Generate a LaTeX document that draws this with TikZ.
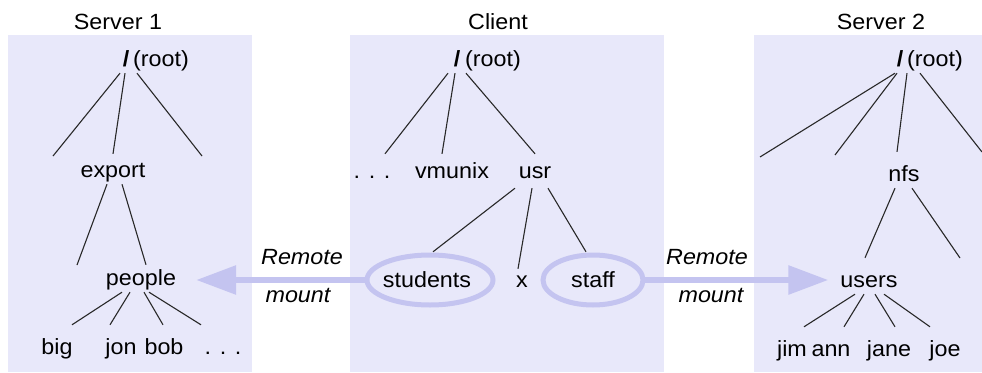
\documentclass[tikz,border=0pt]{standalone}
\usepackage{fontspec}
\setmainfont{Liberation Sans}[FakeStretch=1.06]
\usetikzlibrary{arrows.meta}
\definecolor{boxfill}{RGB}{232,232,250}
\definecolor{mountc}{RGB}{196,196,240}
\definecolor{treeline}{RGB}{40,40,40}
\begin{document}
\begin{tikzpicture}[x=1pt,y=-1pt,
  lbl/.style={anchor=base, inner sep=2pt, text height=16pt, text depth=5pt, font=\fontsize{22}{26}\selectfont},
  itl/.style={lbl, font=\fontsize{22}{26}\selectfont\itshape},
  br/.style={draw=treeline, line width=1.1pt},
  panel/.style={fill=boxfill, draw=none},
  ring/.style={draw=mountc, line width=5pt},
  mountarrow/.style={draw=mountc, line width=6pt, -{Triangle[length=40pt,width=28pt]}}]
\useasboundingbox (0,0) rectangle (982,372);
% panels
\fill[panel] (8,35) rectangle (252,372);
\fill[panel] (350,35) rectangle (664,372);
\fill[panel] (754,35) rectangle (982,372);
% titles
\node[lbl] (t1) at (118,29) {Server 1};
\node[lbl] (t2) at (498,29) {Client};
\node[lbl] (t3) at (881,29) {Server 2};
% ---------- Server 1 ----------
\node[lbl] (r1) at (126,66) {\textbf{/}};
\node[lbl, anchor=base west] (r1t) at (131,66) {(root)};
\node[lbl] (ex) at (113,177) {export};
\node[lbl] (pe) at (141,285) {people};
\node[lbl] (big) at (57,354) {big};
\node[lbl] (jon) at (121,354) {jon};
\node[lbl] (bob) at (164,354) {bob};
\node[lbl] (d1) at (223,354) {. . .};
\coordinate (f1a) at (53,156);
\coordinate (f1b) at (202,156);
\coordinate (f1c) at (77,265);
\draw[br] ([xshift=-6]r1.south) -- (f1a);
\draw[br] ([xshift=-1]r1.south) -- ([yshift=5]ex.north);
\draw[br] ([xshift=11]r1.south) -- (f1b);
\draw[br] ([xshift=-6]ex.south) -- (f1c);
\draw[br] ([xshift=9]ex.south) -- ([xshift=5,yshift=2]pe.north);
\draw[br] ([xshift=-19]pe.south) -- ([xshift=15,yshift=11]big.north);
\draw[br] ([xshift=-11]pe.south) -- ([xshift=-11,yshift=11]jon.north);
\draw[br] ([xshift=3]pe.south) -- ([xshift=-1,yshift=11]bob.north);
\draw[br] ([xshift=8]pe.south) -- ([xshift=-22,yshift=11]d1.north);
% ---------- Client ----------
\node[lbl] (r2) at (457,66) {\textbf{/}};
\node[lbl, anchor=base west] (r2t) at (463,66) {(root)};
\node[lbl] (d2) at (372,178) {. . .};
\node[lbl] (vm) at (452,178) {vmunix};
\node[lbl] (usr) at (535,178) {usr};
\coordinate (stc) at (430,280);
\coordinate (sfc) at (593,280);
\draw[ring] (stc) ellipse [x radius=63, y radius=25];
\draw[ring] (sfc) ellipse [x radius=50, y radius=25];
\node[lbl] (st) at (427,287) {students};
\node[lbl] (xx) at (522,287) {x};
\node[lbl] (sf) at (593,287) {staff};
\draw[br] ([xshift=-9]r2.south) -- ([xshift=13,yshift=6]d2.north);
\draw[br] ([xshift=-2]r2.south) -- ([xshift=-10,yshift=6]vm.north);
\draw[br] ([xshift=9]r2.south) -- ([yshift=6]usr.north);
\draw[br] ([xshift=-20,yshift=-3]usr.south) -- ([xshift=6,yshift=17]st.north);
\draw[br] ([xshift=-3,yshift=-3]usr.south) -- ([xshift=-4]xx.north);
\draw[br] ([xshift=13,yshift=-3]usr.south) -- ([xshift=-7,yshift=17]sf.north);
% ---------- Server 2 ----------
\node[lbl] (r3) at (900,66) {\textbf{/}};
\node[lbl, anchor=base west] (r3t) at (905,66) {(root)};
\node[lbl] (nfs) at (904,181) {nfs};
\node[lbl] (us) at (869,287) {users};
\node[lbl] (jim) at (792,356) {jim};
\node[lbl] (ann) at (831,356) {ann};
\node[lbl] (jane) at (889,356) {jane};
\node[lbl] (joe) at (945,356) {joe};
\coordinate (f3a) at (760,157);
\coordinate (f3b) at (835,155);
\coordinate (f3c) at (982,152);
\coordinate (f3d) at (960,258);
\draw[br] ([xshift=-5]r3.south) -- (f3a);
\draw[br] ([xshift=-3]r3.south) -- (f3b);
\draw[br] ([xshift=7]r3.south) -- ([xshift=-7,yshift=11]nfs.north);
\draw[br] ([xshift=20]r3.south) -- (f3c);
\draw[br] ([xshift=-9]nfs.south) -- ([xshift=-4,yshift=11]us.north);
\draw[br] ([xshift=8]nfs.south) -- (f3d);
\draw[br] ([xshift=-14]us.south) -- ([xshift=12,yshift=11]jim.north);
\draw[br] ([xshift=-5]us.south) -- ([xshift=13,yshift=11]ann.north);
\draw[br] ([xshift=6]us.south) -- ([xshift=6,yshift=11]jane.north);
\draw[br] ([xshift=15]us.south) -- ([xshift=-15,yshift=11]joe.north);
% ---------- remote mounts ----------
\draw[mountarrow] ([xshift=-63]stc) -- ([xshift=18]pe.east |- stc);
\draw[mountarrow] ([xshift=50]sfc) -- ([xshift=-10]us.west |- sfc);
\node[itl] (rm1) at (302,264) {Remote};
\node[itl] (mt1) at (298,302) {mount};
\node[itl] (rm2) at (707,264) {Remote};
\node[itl] (mt2) at (711,302) {mount};
\end{tikzpicture}
\end{document}
